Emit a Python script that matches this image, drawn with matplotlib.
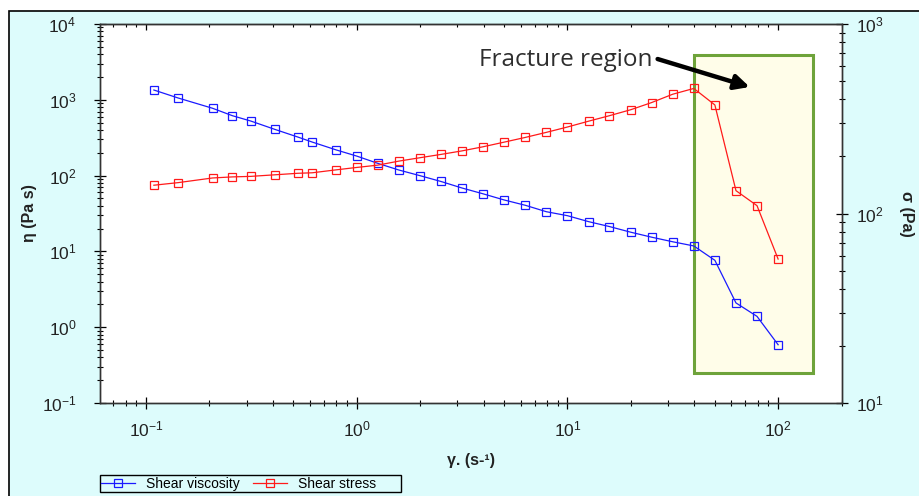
import math
import matplotlib
matplotlib.use('Agg')
import matplotlib.pyplot as plt
from matplotlib.patches import Rectangle
from matplotlib.ticker import LogLocator, FuncFormatter, NullFormatter

plt.rcParams['font.family'] = ['Liberation Sans', 'DejaVu Sans']
plt.rcParams['mathtext.default'] = 'regular'

# shear sweep
shear_rate = [0.109, 0.142, 0.207, 0.257, 0.314, 0.408, 0.525, 0.615, 0.80, 1.0,
              1.26, 1.585, 2.0, 2.51, 3.16, 3.98, 5.01, 6.31, 7.94, 10.0,
              12.6, 15.8, 20.0, 25.1, 31.6, 39.8, 50.1, 63.1, 79.4, 100.0]
viscosity = [1346, 1057, 773, 617, 525, 408, 323, 277, 218, 181,
             145, 118.5, 99.7, 83.7, 68.6, 57.5, 47.7, 40.6, 33.4, 29.6,
             24.7, 21.3, 17.9, 15.4, 13.4, 11.8, 7.63, 2.09, 1.39, 0.587]
stress = [141, 145.5, 154, 156, 157, 160, 163, 164, 170, 175,
          180, 189, 197, 205, 214, 225, 238, 252, 268, 286,
          307, 328, 353, 385, 426, 457, 374, 132, 110, 57.5]

series_names = ['Shear viscosity', 'Shear stress']
fracture_label = 'Fracture region'

BG = '#ddfcfc'
TXT = '#222222'


def pow_label(v, pos):
    return r'$\mathregular{10^{%d}}$' % round(math.log10(v))


def log_ticks(axis, labels=True):
    axis.set_major_locator(LogLocator(base=10, numticks=20))
    axis.set_minor_locator(LogLocator(base=10, subs=range(2, 10), numticks=20))
    axis.set_major_formatter(FuncFormatter(pow_label) if labels else NullFormatter())
    axis.set_minor_formatter(NullFormatter())


fig = plt.figure(figsize=(9.19, 4.96), dpi=100, facecolor='white')
fig.add_artist(Rectangle((9 / 919, -0.1), 1.2, 1.1 - 11 / 496,
                         transform=fig.transFigure, facecolor=BG,
                         edgecolor='black', lw=1.2, zorder=-10))

ax = fig.add_axes([100 / 919, 1 - 403 / 496, 742 / 919, 379 / 496])
ax.set_facecolor('white')
ax.set_xscale('log')
ax.set_yscale('log')
ax.set_xlim(0.0605, 201)
ax.set_ylim(0.1, 1e4)

ax2 = ax.twinx()
ax2.set_yscale('log')
ax2.set_ylim(10, 1000)

for a in (ax, ax2):
    for s in a.spines.values():
        s.set_color('#333333')
        s.set_linewidth(1.0)

log_ticks(ax.xaxis)
log_ticks(ax.yaxis)
log_ticks(ax2.yaxis)

ax.tick_params(axis='x', which='major', direction='inout', length=8, width=0.9,
               pad=8, labelsize=12.5, labelcolor=TXT, top=False)
ax.tick_params(axis='x', which='minor', direction='inout', length=4, width=0.8, top=False)
ax.tick_params(axis='y', which='major', direction='inout', length=8, width=0.9,
               pad=13, labelsize=12.5, labelcolor=TXT)
ax.tick_params(axis='y', which='minor', direction='inout', length=4.5, width=0.8)
ax2.tick_params(axis='y', which='major', direction='inout', length=8, width=0.9,
                pad=6, labelsize=12.5, labelcolor=TXT)
ax2.tick_params(axis='y', which='minor', direction='inout', length=4.5, width=0.8)

# top spine carries inward ticks only
top = ax.secondary_xaxis('top')
log_ticks(top.xaxis, labels=False)
top.tick_params(which='major', direction='in', length=4, width=0.9)
top.tick_params(which='minor', direction='in', length=2, width=0.8)
top.spines['top'].set_color('#333333')

# fracture box
ax.add_patch(Rectangle((39.8, 0.249), 146.5 - 39.8, 3900 - 0.249,
                       facecolor='#fffde9', edgecolor='#6ea33a', lw=2.2, zorder=1))

l1, = ax.plot(shear_rate, viscosity, color='#1a1aff', lw=0.9, marker='s',
              markersize=6, fillstyle='none', markeredgewidth=0.9, zorder=3)
l2, = ax2.plot(shear_rate, stress, color='#ff1a1a', lw=0.9, marker='s',
               markersize=6, fillstyle='none', markeredgewidth=0.9, zorder=3)

ax.text(25.4, 2793, fracture_label, ha='right', va='baseline', fontsize=17.5,
        family=['Open Sans', 'DejaVu Sans'], color='#2e2e2e', zorder=5)
ax.annotate('', xy=(73.3, 1476), xytext=(26.8, 3452),
            arrowprops=dict(arrowstyle='-|>', lw=3.2, color='black',
                            mutation_scale=22, shrinkA=0, shrinkB=0), zorder=5)

ax.set_ylabel('η (Pa s)', fontsize=11.5, fontweight='bold', color=TXT)
ax.yaxis.set_label_coords(-0.085, 0.5)
ax2.set_ylabel('σ (Pa)', fontsize=11.5, fontweight='bold', color=TXT,
               rotation=270, labelpad=22)
ax.set_xlabel('γ. (s-¹)', fontsize=11.5, fontweight='bold', color=TXT, labelpad=10)

leg = fig.legend([l1, l2], [series_names[0], series_names[1] + '      '],
                 loc='lower left', bbox_to_anchor=(100 / 919, 4 / 496), ncol=2,
                 fontsize=10, frameon=True, fancybox=False, edgecolor='black',
                 facecolor=BG, framealpha=1, borderpad=0.1, borderaxespad=0,
                 handlelength=2.4, handletextpad=0.8, columnspacing=1.0)
leg.get_frame().set_linewidth(1.0)

fig.savefig('out.png', dpi=100, facecolor=fig.get_facecolor())
